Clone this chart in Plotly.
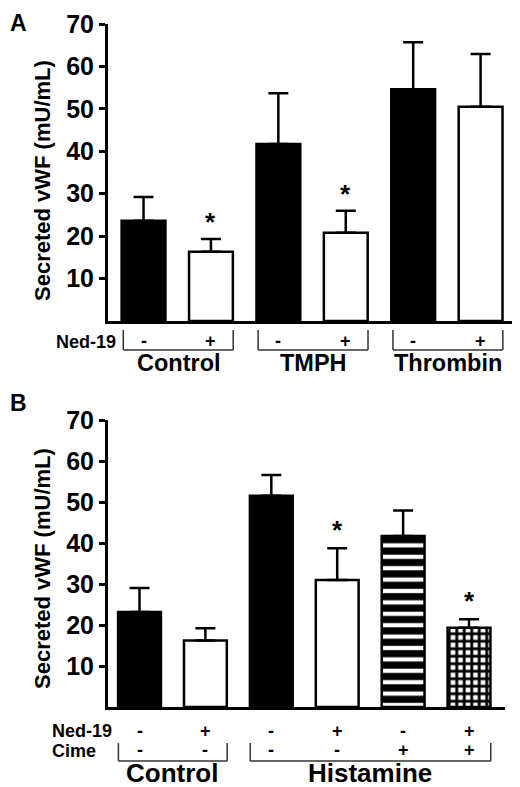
import plotly.graph_objects as go

# ---------------- data ----------------
A_categories = ["Control -", "Control +", "TMPH -", "TMPH +", "Thrombin -", "Thrombin +"]
A_values = [23.6, 16.3, 41.7, 20.8, 54.6, 50.5]
A_errors = [5.6, 3.0, 12.0, 5.2, 11.1, 12.4]
A_significant = [False, True, False, True, False, False]
A_ned19 = ["-", "+", "-", "+", "-", "+"]
A_groups = ["Control", "TMPH", "Thrombin"]
A_group_start = [0, 2, 4]
A_group_end = [1, 3, 5]

B_categories = ["Control -/-", "Control +/-", "Histamine -/-", "Histamine +/-",
                "Histamine -/+", "Histamine +/+"]
B_values = [23.2, 16.2, 51.5, 31.0, 41.7, 19.3]
B_errors = [5.8, 3.0, 5.1, 7.7, 6.2, 2.1]
B_significant = [False, False, False, True, False, True]
B_ned19 = ["-", "+", "-", "+", "-", "+"]
B_cime = ["-", "-", "-", "-", "+", "+"]
B_groups = ["Control", "Histamine"]
B_group_start = [0, 2]
B_group_end = [1, 5]

y_ticks = [10, 20, 30, 40, 50, 60, 70]

# ---------------- styling ----------------
OFF = 8  # default page margin around the plot div
W, H = 520 - OFF, 787 - OFF
FONT = "Liberation Sans, Arial, Helvetica, sans-serif"


def px(p):
    return (p - OFF) / W


def py(p):
    return 1 - (p - OFF) / H


A_fill = ["black", "white", "black", "white", "black", "white"]
# fill style of panel B bars: solid colour or a pattern
B_fill = ["black", "white", "black", "white", "stripes", "checker"]
PATTERNS = {
    "stripes": dict(shape="-", fgcolor="black", bgcolor="white", size=11.4,
                    solidity=0.63, fillmode="replace"),
    "checker": dict(shape="+", fgcolor="black", bgcolor="white", size=7.5,
                    solidity=0.62, fillmode="replace"),
}

fig = go.Figure()

err_style = dict(type="data", symmetric=False, color="black", thickness=2.5, width=10)

fig.add_trace(go.Bar(
    x=A_categories, y=A_values, xaxis="x", yaxis="y",
    width=0.65,
    marker=dict(color=A_fill, line=dict(color="black", width=2.5)),
    error_y=dict(array=A_errors, arrayminus=[0] * len(A_errors), **err_style),
    showlegend=False,
))

# panel B: one trace per fill style
for style in ["solid", "stripes", "checker"]:
    if style == "solid":
        idx = [i for i, f in enumerate(B_fill) if f not in PATTERNS]
    else:
        idx = [i for i, f in enumerate(B_fill) if f == style]
    if not idx:
        continue
    marker = dict(line=dict(color="black", width=2.5))
    if style == "solid":
        marker["color"] = [B_fill[i] for i in idx]
    else:
        marker["color"] = "white"
        marker["pattern"] = PATTERNS[style]
    fig.add_trace(go.Bar(
        x=[B_categories[i] for i in idx], y=[B_values[i] for i in idx],
        xaxis="x2", yaxis="y2", width=0.65, marker=marker,
        error_y=dict(array=[B_errors[i] for i in idx], arrayminus=[0] * len(idx), **err_style),
        showlegend=False,
    ))

yaxis_style = dict(
    range=[0, 70], tickvals=y_ticks, ticks="outside", ticklen=6, tickwidth=3,
    tickcolor="black", showline=True, linewidth=3, linecolor="black",
    showgrid=False, zeroline=False, automargin=False,
    tickfont=dict(family=FONT, size=25, color="black", weight="bold"),
)
xaxis_style = dict(
    type="category", showline=True, linewidth=3, linecolor="black",
    showgrid=False, zeroline=False, showticklabels=False, ticks="", automargin=False,
)

fig.update_layout(
    template="none",
    width=W, height=H,
    margin=dict(l=0, r=0, t=0, b=0, pad=0),
    paper_bgcolor="white", plot_bgcolor="white",
    barmode="overlay",
    xaxis=dict(domain=[px(108), px(517)], range=[-0.527, 5.54], anchor="y",
               categoryorder="array", categoryarray=A_categories, **xaxis_style),
    yaxis=dict(domain=[py(321), py(24)], anchor="x", **yaxis_style),
    xaxis2=dict(domain=[px(108), px(505)], range=[-0.478, 5.546], anchor="y2",
                categoryorder="array", categoryarray=B_categories, **xaxis_style),
    yaxis2=dict(domain=[py(707), py(420)], anchor="x2", **yaxis_style),
)

ann = []
shapes = []


def text(x, y, t, size, xref="paper", xanchor="center", yanchor="middle"):
    ann.append(dict(x=x, y=y, xref=xref, yref="paper", text=t, showarrow=False,
                    xanchor=xanchor, yanchor=yanchor,
                    font=dict(family=FONT, size=size, color="black", weight="bold")))


def bracket(xref, x0, x1, ytop, ybot):
    line = dict(color="#333333", width=1.5)
    shapes.append(dict(type="line", xref=xref, yref="paper", x0=x0, x1=x0,
                       y0=py(ytop), y1=py(ybot), line=line))
    shapes.append(dict(type="line", xref=xref, yref="paper", x0=x1, x1=x1,
                       y0=py(ytop), y1=py(ybot), line=line))
    shapes.append(dict(type="line", xref=xref, yref="paper", x0=x0, x1=x1,
                       y0=py(ybot), y1=py(ybot), line=line))


# panel letters (top-left of the plot canvas)
text(0, 1, "A", 23, xanchor="left", yanchor="top")
text(0, py(403), "B", 23, xanchor="left")

# y-axis titles
for yc in (181, 569):
    ann.append(dict(x=px(42), y=py(yc), xref="paper", yref="paper",
                    text="Secreted vWF (mU/mL)", textangle=-90, showarrow=False,
                    xanchor="center", yanchor="middle",
                    font=dict(family=FONT, size=22, color="black", weight="bold")))

# asterisks
for i, s in enumerate(A_significant):
    if s:
        ann.append(dict(x=i, y=A_values[i] + A_errors[i], xref="x", yref="y", text="*",
                        showarrow=False, yanchor="middle", yshift=17,
                        font=dict(family=FONT, size=26, color="black", weight="bold")))
for i, s in enumerate(B_significant):
    if s:
        ann.append(dict(x=i, y=B_values[i] + B_errors[i], xref="x2", yref="y2", text="*",
                        showarrow=False, yanchor="middle", yshift=18,
                        font=dict(family=FONT, size=26, color="black", weight="bold")))

# panel A treatment labels
text(px(118), py(342), "Ned-19", 18, xanchor="right")
for i, s in enumerate(A_ned19):
    text(i, py(341), s, 18, xref="x")
for g, a, b in zip(A_groups, A_group_start, A_group_end):
    bracket("x", a - 0.3, b + 0.33, 330, 350)
    text((a + b) / 2 + 0.02, py(363), g, 23.5, xref="x")

# panel B treatment labels
text(px(50), py(731), "Ned-19", 18, xanchor="left")
text(px(50), py(751), "Cime", 18, xanchor="left")
for i, s in enumerate(B_ned19):
    text(i, py(731), s, 18, xref="x2")
for i, s in enumerate(B_cime):
    text(i, py(750), s, 18, xref="x2")
for g, a, b in zip(B_groups, B_group_start, B_group_end):
    bracket("x2", a - 0.32, b + 0.33, 743, 761)
    text((a + b) / 2, py(773), g, 26, xref="x2")

fig.update_layout(annotations=ann, shapes=shapes)

fig.write_html("out.html")
